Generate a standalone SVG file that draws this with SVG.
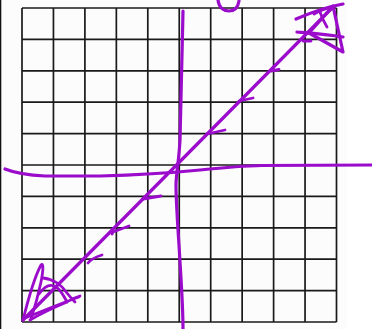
<svg xmlns="http://www.w3.org/2000/svg" width="372" height="329" viewBox="0 0 372 329">
<style>
.g{stroke:#1a1a1a;stroke-width:1.7;fill:none}
.p{stroke:#9b0bcb;stroke-width:3.2;fill:none;stroke-linecap:round;stroke-linejoin:round}
.t{stroke:#9b0bcb;stroke-width:2.8;fill:none;stroke-linecap:round;stroke-linejoin:round}
</style>
<rect x="0" y="0" width="372" height="329" fill="#fcfcfc"/>
<rect x="347" y="0" width="25" height="329" fill="#ffffff"/>
<rect x="0" y="0" width="1.3" height="329" fill="#111"/>
<g id="grid">
<path class="g" d="M22,8V322M53.45,8V322M84.9,8V322M116.35,8V322M147.8,8V322M179.25,8V322M210.7,8V322M242.15,8V322M273.6,8V322M305.05,8V322M336.5,8V322"/>
<path class="g" d="M22,8H336.5M22,39.4H336.5M22,70.8H336.5M22,102.2H336.5M22,133.6H336.5M22,165H336.5M22,196.4H336.5M22,227.8H336.5M22,259.2H336.5M22,290.6H336.5M22,322H336.5"/>
</g>
<g id="axes">
<path id="x-axis" class="p" d="M5,169 C15,173 25,175 45,176 L100,176 C140,175 170,173 200,170 C220,168 240,166 262,165.5 L372,165"/>
<path id="y-axis" class="p" d="M183,11 C182,60 181,110 180,140 C179,160 176,175 176,185 C176,200 178,230 179,245 C181,280 183,305 183,329"/>
</g>
<g id="connectors">
<path id="diagonal" class="p" d="M23,320 L333,7"/>
<path class="t" d="M207,134 L225,130"/>
<path class="t" d="M239,101 L253,98"/>
<path class="t" d="M271,71 L279,69.5"/>
<path class="t" d="M303,41 L311,41"/>
<path class="t" d="M143,199 L161,196"/>
<path class="t" d="M129,226 L113,232 L112,234"/>
<path class="t" d="M102,255 Q92,258 88,263"/>
</g>
<g id="arrow-top-right">
<path class="p" d="M296,19 C310,13 326,7 343,4"/>
<path class="p" d="M297,32 C310,33 326,34 343,37"/>
<path class="p" d="M333,6 L343,52 L309,33 L333,6"/>
<path class="t" d="M320,12 C322,18 324,22 327,27"/>
<path class="t" d="M314,14 C320,10 327,8 334,7"/>
</g>
<g id="arrow-bottom-left">
<path class="t" d="M23,320 C28,300 35,276 41,265 C44,262 43,272 41,282 C38,296 34,310 31,319"/>
<path class="t" d="M43,278 C53,279 62,285 67,293 C70,297 73,300 75,302"/>
<path class="t" d="M39,294 C44,287 50,283 56,287 C61,290 64,296 67,302"/>
<path class="t" d="M25,318 C45,310 62,303 79,297"/>
<path class="t" d="M30,320 C42,313 55,307 67,302"/>
<path class="t" d="M72,299 L80,296"/>
</g>
<path id="mark" class="p" d="M218,0 C219,8 224,11 229,11 C235,11 238,7 239,1"/>
</svg>
